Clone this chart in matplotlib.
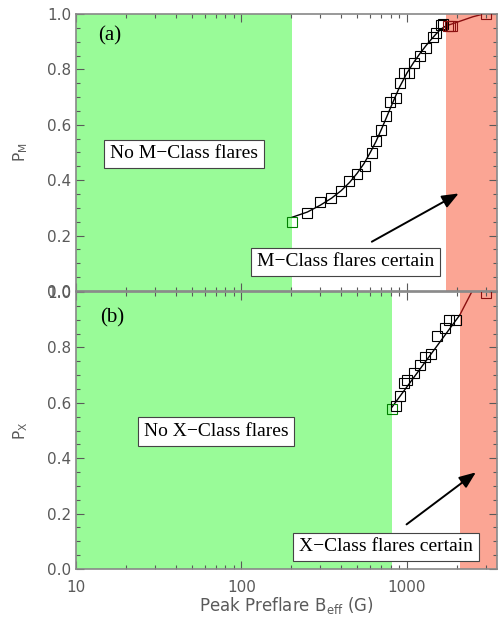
import matplotlib
matplotlib.use('Agg')
import matplotlib.pyplot as plt
from matplotlib.ticker import MultipleLocator, NullFormatter

# panel (a): M-class
bm_pts = [202, 249, 299, 349, 399, 448, 499, 555, 615, 653, 700, 750, 794, 860,
          912, 964, 1023, 1097, 1205, 1310, 1438, 1506, 1608, 1650, 1760, 1810, 1860, 3020]
pm_pts = [0.25, 0.28, 0.32, 0.335, 0.362, 0.397, 0.422, 0.452, 0.497, 0.543, 0.581,
          0.632, 0.683, 0.696, 0.75, 0.786, 0.786, 0.822, 0.85, 0.876, 0.918, 0.93,
          0.96, 0.965, 0.957, 0.957, 0.955, 1.0]
bm_fit = [202, 250, 300, 350, 400, 450, 500, 550, 600, 650, 700, 750, 800, 900,
          1000, 1100, 1200, 1300, 1400, 1500, 1600, 1720]
pm_fit = [0.266, 0.285, 0.31, 0.335, 0.362, 0.392, 0.425, 0.46, 0.5, 0.54, 0.583,
          0.625, 0.665, 0.735, 0.787, 0.826, 0.858, 0.885, 0.908, 0.928, 0.945, 0.957]
bm_fit_hi = [1720, 2000, 2500, 2900, 3500]
pm_fit_hi = [0.957, 0.97, 0.99, 1.0, 1.0]
bm_lo, bm_hi = 203, 1730

# panel (b): X-class
bx_pts = [813, 860, 912, 964, 999, 1097, 1205, 1292, 1400, 1525, 1706, 1800, 1980, 3020]
px_pts = [0.577, 0.59, 0.625, 0.67, 0.682, 0.709, 0.736, 0.767, 0.775, 0.841, 0.871,
          0.90, 0.899, 0.998]
bx_fit = [813, 2085]
px_fit = [0.585, 0.917]
bx_fit_hi = [2085, 2460, 2700]
px_fit_hi = [0.917, 1.0, 1.05]
bx_lo, bx_hi = 813, 2085

GREEN = '#99fb98'
RED = '#fba594'
DARKRED = '#8b1010'
TICKC = '#5a5a5a'

fig = plt.figure(figsize=(4.98, 6.17), dpi=100)
ax1 = fig.add_axes([0.1526, 0.5284, 0.8454, 0.4489])
ax2 = fig.add_axes([0.1526, 0.0778, 0.8454, 0.4489])


def setup(ax, ylab):
    ax.set_xscale('log')
    ax.set_xlim(10, 3500)
    ax.set_ylim(0, 1)
    ax.yaxis.set_major_locator(MultipleLocator(0.2))
    ax.yaxis.set_minor_locator(MultipleLocator(0.05))
    ax.tick_params(which='both', direction='in', top=True, right=True,
                   colors=TICKC, labelcolor=TICKC, labelsize=11)
    ax.tick_params(which='major', length=6, width=0.8)
    ax.tick_params(which='minor', length=3, width=0.8)
    for s in ax.spines.values():
        s.set_color('#888888')
        s.set_linewidth(1.2)
    ax.set_ylabel(ylab, color=TICKC, fontsize=11, labelpad=12)


def panel(ax, lo, hi, bp, pp, bf, pf, bfh, pfh):
    ax.axvspan(10, lo, color=GREEN, lw=0, zorder=0)
    ax.axvspan(hi, 3500, color=RED, lw=0, zorder=0)
    ax.plot(bf, pf, color='black', lw=1.0, zorder=2)
    ax.plot(bfh, pfh, color=DARKRED, lw=1.0, zorder=2)
    for b, p in zip(bp, pp):
        c = 'green' if b <= lo + 1 else (DARKRED if b >= hi else 'black')
        ax.plot(b, p, marker='s', ms=7.5, mfc='none', mec=c, mew=0.8, zorder=3)


box = dict(boxstyle='square,pad=0.3', fc='white', ec='#444444', lw=0.8)
serif = ['Liberation Serif', 'DejaVu Serif']
arrow = dict(arrowstyle='-|>,head_length=1.0,head_width=0.4', color='black', lw=1.4)

setup(ax1, r'P$_{\rm M}$')
panel(ax1, bm_lo, bm_hi, bm_pts, pm_pts, bm_fit, pm_fit, bm_fit_hi, pm_fit_hi)
ax1.xaxis.set_major_formatter(NullFormatter())
ax1.text(13.6, 0.92, '(a)', family=serif, fontsize=15, va='center')
ax1.text(16.0, 0.495, 'No M\u2212Class flares', family=serif, fontsize=14,
         va='center', bbox=box)
ax1.text(124, 0.105, 'M\u2212Class flares certain', family=serif, fontsize=14,
         va='center', bbox=box)
ax1.annotate('', xy=(2124, 0.357), xytext=(593, 0.173), arrowprops=arrow)

setup(ax2, r'P$_{\rm X}$')
panel(ax2, bx_lo, bx_hi, bx_pts, px_pts, bx_fit, px_fit, bx_fit_hi, px_fit_hi)
ax2.set_xticks([10, 100, 1000])
ax2.set_xticklabels(['10', '100', '1000'])
ax2.tick_params(axis='x', pad=8)
ax2.text(14.0, 0.906, '(b)', family=serif, fontsize=15, va='center')
ax2.text(25.6, 0.496, 'No X\u2212Class flares', family=serif, fontsize=14,
         va='center', bbox=box)
ax2.text(222, 0.08, 'X\u2212Class flares certain', family=serif, fontsize=14,
         va='center', bbox=box)
ax2.annotate('', xy=(2690, 0.355), xytext=(964, 0.155), arrowprops=arrow)
ax2.set_xlabel(r'Peak Preflare B$_{\rm eff}$ (G)', color=TICKC, fontsize=12,
               labelpad=0)

fig.savefig('out.png', dpi=100)
